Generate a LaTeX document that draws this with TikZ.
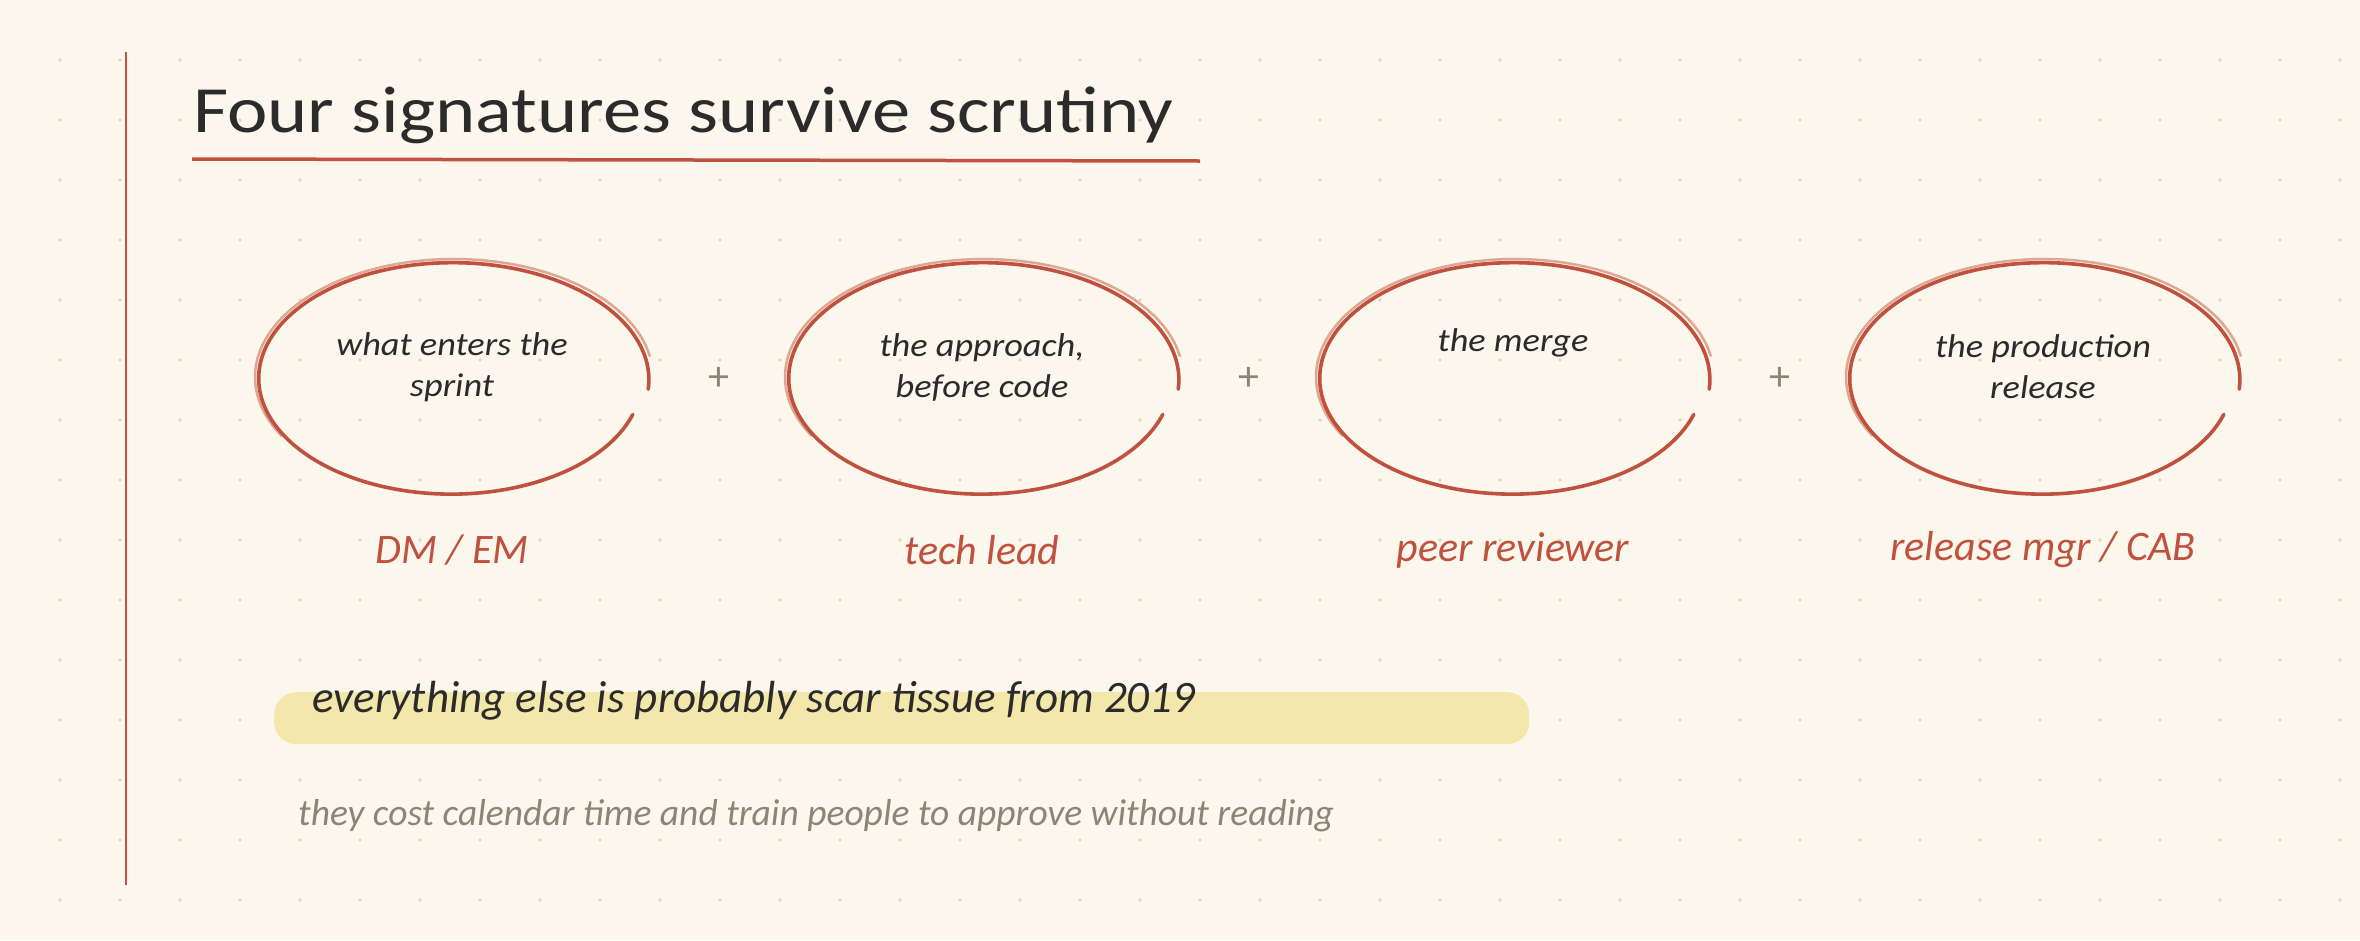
\documentclass[tikz,border=0pt]{standalone}
\usepackage{fontspec}
\setmainfont{Carlito}
\newfontfamily\titlefont[FakeStretch=1.16]{Carlito}
\newfontfamily\handfont[FakeStretch=1.1]{Carlito}
\usetikzlibrary{shapes.geometric}
\definecolor{paper}{HTML}{FBF7EC}
\definecolor{ink}{HTML}{2B2B2B}
\definecolor{rust}{HTML}{C0513F}
\definecolor{rustlight}{HTML}{DFA595}
\definecolor{dotc}{HTML}{DFD6C4}
\definecolor{hilite}{HTML}{F3E7AC}
\definecolor{muted}{HTML}{8A8578}
\tikzset{
  title/.style={font=\titlefont\fontsize{66}{70}\selectfont, text=ink, inner sep=0pt},
  body/.style={font=\handfont\itshape\fontsize{33}{41}\selectfont, text=ink, align=center, inner sep=0pt},
  role/.style={font=\itshape\fontsize{42}{46}\selectfont, text=rust, inner sep=0pt},
  plus/.style={font=\fontsize{42}{42}\selectfont, text=muted, inner sep=0pt},
  ring/.style={ellipse, minimum width=394pt, minimum height=234pt},
}
% signature bubble: name, x, text, role
\newcommand{\sig}[4]{
  \node[ring] (#1) at (#2,379) {};
  \draw[rustlight, line width=2.5pt] plot[smooth, domain=150:350, samples=40]
    ({#2+2+199*cos(\x)}, {377+118*sin(\x)});
  \draw[rust, line width=3.6pt, line cap=round] plot[smooth, domain=18:365, samples=90]
    ({#2+(0.965+0.035*(\x-18)/347)*197*cos(\x)}, {379+(0.98+0.02*(\x-18)/347)*117*sin(\x)});
  \node[body] (#1t) at (#2,367) {#3};
  \node[role] (#1r) at (#2,550) {#4};
}

\begin{document}
\begin{tikzpicture}[x=1pt, y=-1pt]
  \fill[paper] (0,0) rectangle (2360,940);
  \useasboundingbox (0,0) rectangle (2360,940);
  % dot grid
  \foreach \i in {1,...,39} \foreach \j in {1,...,15}
    \fill[dotc] (60*\i,60*\j) circle (1.8pt);

  \draw[rust, line width=2pt] (126,52) -- (126,885);
  \node[title, anchor=base west] (ttl) at (193,132) {Four signatures survive scrutiny};
  \draw[rust, line width=3.5pt] (192,159) -- (1200,161);

  \sig{s1}{452}{what enters the\\sprint}{DM / EM}
  \sig{s2}{982}{the approach,\\before code}{tech lead}
  \sig{s3}{1513}{the merge\\\strut}{peer reviewer}
  \sig{s4}{2043}{the production\\release}{release mgr / CAB}
  \node[plus] (p1) at (719,379) {+};
  \node[plus] (p2) at (1249,379) {+};
  \node[plus] (p3) at (1780,379) {+};

  \node[fill=hilite, rounded corners=22pt, minimum width=1255pt, minimum height=52pt,
    anchor=north west, inner sep=0pt] (bar) at (274,692) {};
  \node[body, font=\itshape\fontsize{45}{48}\selectfont, anchor=base west] (scar) at (312,712)
    {everything else is probably scar tissue from 2019};
  \node[body, font=\itshape\fontsize{37.5}{40}\selectfont, text=muted, anchor=base west] (cost) at (298,825)
    {they cost calendar time and train people to approve without reading};
\end{tikzpicture}
\end{document}
